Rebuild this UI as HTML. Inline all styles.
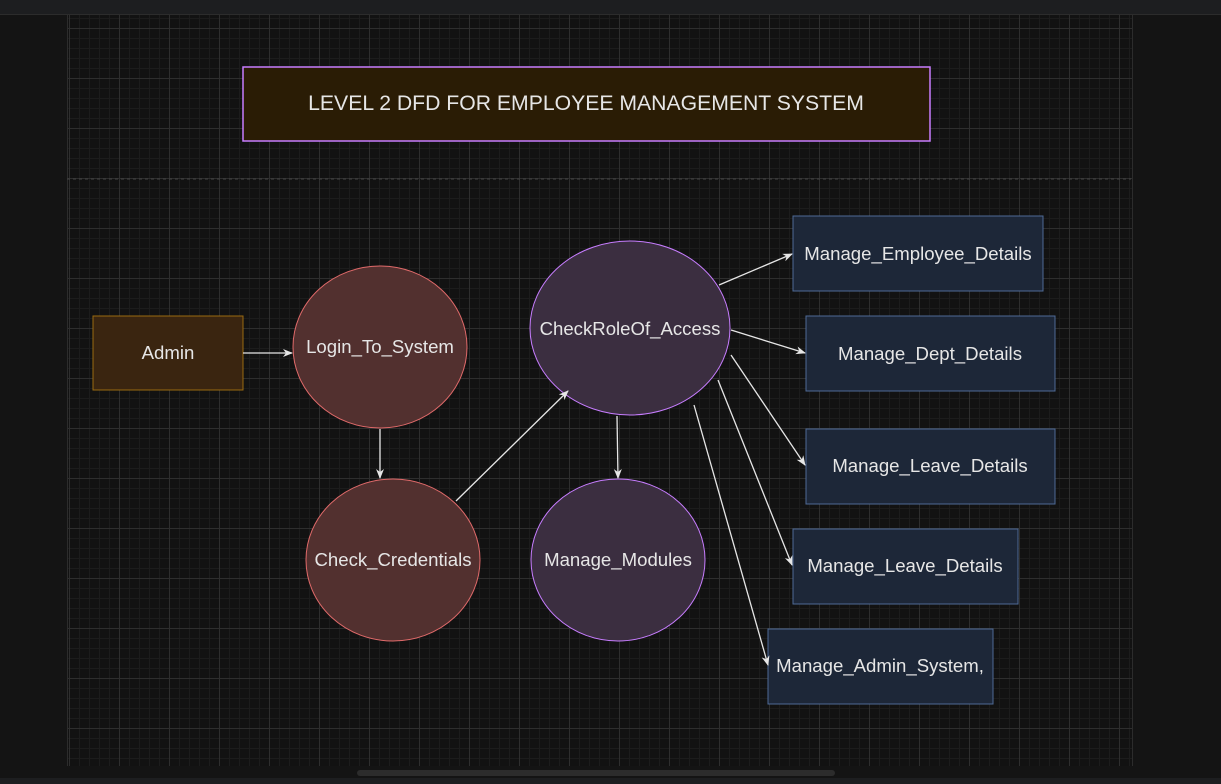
<!DOCTYPE html>
<html><head><style>
body{margin:0;width:1221px;height:784px;background:#141414;overflow:hidden;font-family:"Liberation Sans",sans-serif;position:relative}
.top{position:absolute;left:0;top:0;width:1221px;height:14px;background:#1d1e20;border-bottom:1px solid #2c2c2c}
.grid{position:absolute;left:67px;top:15px;width:1064px;height:751px;background-color:#121212;
background-image:linear-gradient(#2e2e2e 1px,transparent 1px),linear-gradient(90deg,#2e2e2e 1px,transparent 1px),linear-gradient(#1c1c1c 1px,transparent 1px),linear-gradient(90deg,#1c1c1c 1px,transparent 1px);
background-size:50px 50px,50px 50px,10px 10px,10px 10px;background-position:0 13px,1px 0,0 3px,1px 0;border-left:1px solid #2c2c2c;border-right:1px solid #2c2c2c}
.bot{position:absolute;left:0;top:778px;width:1221px;height:6px;background:#1d1e20}
.sb{position:absolute;left:357px;top:770px;width:478px;height:6px;border-radius:3px;background:#2c2c2c}
</style></head><body>
<div class="top"></div>
<div class="grid"></div>
<div class="sb"></div>
<div class="bot"></div>
<svg width="1221" height="784" style="position:absolute;left:0;top:0" font-family="Liberation Sans, sans-serif" font-size="18.6" fill="#e6e6e6">
<defs><marker id="a" markerWidth="10" markerHeight="10" refX="9" refY="5" orient="auto" markerUnits="userSpaceOnUse"><path d="M0,1 L10,5 L0,9 L3,5 Z" fill="#e6e6e6"/></marker></defs>
<line x1="67" y1="179" x2="1131" y2="179" stroke="#444" stroke-dasharray="3,3"/>
<rect x="243" y="67" width="687" height="74" fill="#2a1c05" stroke="#c77dff" stroke-width="1.5"/>
<text x="586" y="110" text-anchor="middle" font-size="21.2">LEVEL 2 DFD FOR EMPLOYEE MANAGEMENT SYSTEM</text>
<rect x="93" y="316" width="150" height="74" fill="#3a2510" stroke="#9a6a10"/>
<text x="168" y="359" text-anchor="middle">Admin</text>
<g stroke="#e06a6a" fill="#52302f"><ellipse cx="380" cy="347" rx="87" ry="81"/><ellipse cx="393" cy="560" rx="87" ry="81"/></g>
<g stroke="#c77dff" fill="#3b2e40"><ellipse cx="630" cy="328" rx="100" ry="87"/><ellipse cx="618" cy="560" rx="87" ry="81"/></g>
<text x="380" y="353" text-anchor="middle">Login_To_System</text>
<text x="393" y="566" text-anchor="middle">Check_Credentials</text>
<text x="630" y="335" text-anchor="middle">CheckRoleOf_Access</text>
<text x="618" y="566" text-anchor="middle">Manage_Modules</text>
<g stroke="#4e6a96" fill="#1d2738">
<rect x="793" y="216" width="250" height="75"/><rect x="806" y="316" width="249" height="75"/>
<rect x="806" y="429" width="249" height="75"/><rect x="793" y="529" width="225" height="75"/>
<rect x="768" y="629" width="225" height="75"/></g>
<text x="918" y="260" text-anchor="middle">Manage_Employee_Details</text>
<text x="930" y="360" text-anchor="middle">Manage_Dept_Details</text>
<text x="930" y="472" text-anchor="middle">Manage_Leave_Details</text>
<text x="905" y="572" text-anchor="middle">Manage_Leave_Details</text>
<text x="880" y="672" text-anchor="middle">Manage_Admin_System,</text>
<g stroke="#e6e6e6" stroke-width="1.3" marker-end="url(#a)">
<line x1="243" y1="353" x2="292" y2="353"/>
<line x1="380" y1="429" x2="380" y2="478"/>
<line x1="456" y1="501" x2="568" y2="391"/>
<line x1="617" y1="416" x2="618" y2="478"/>
<line x1="719" y1="285" x2="792" y2="254"/>
<line x1="731" y1="330" x2="805" y2="353"/>
<line x1="731" y1="355" x2="805" y2="465"/>
<line x1="718" y1="380" x2="792" y2="565"/>
<line x1="694" y1="405" x2="768" y2="665"/>
</g>
</svg>
</body></html>
